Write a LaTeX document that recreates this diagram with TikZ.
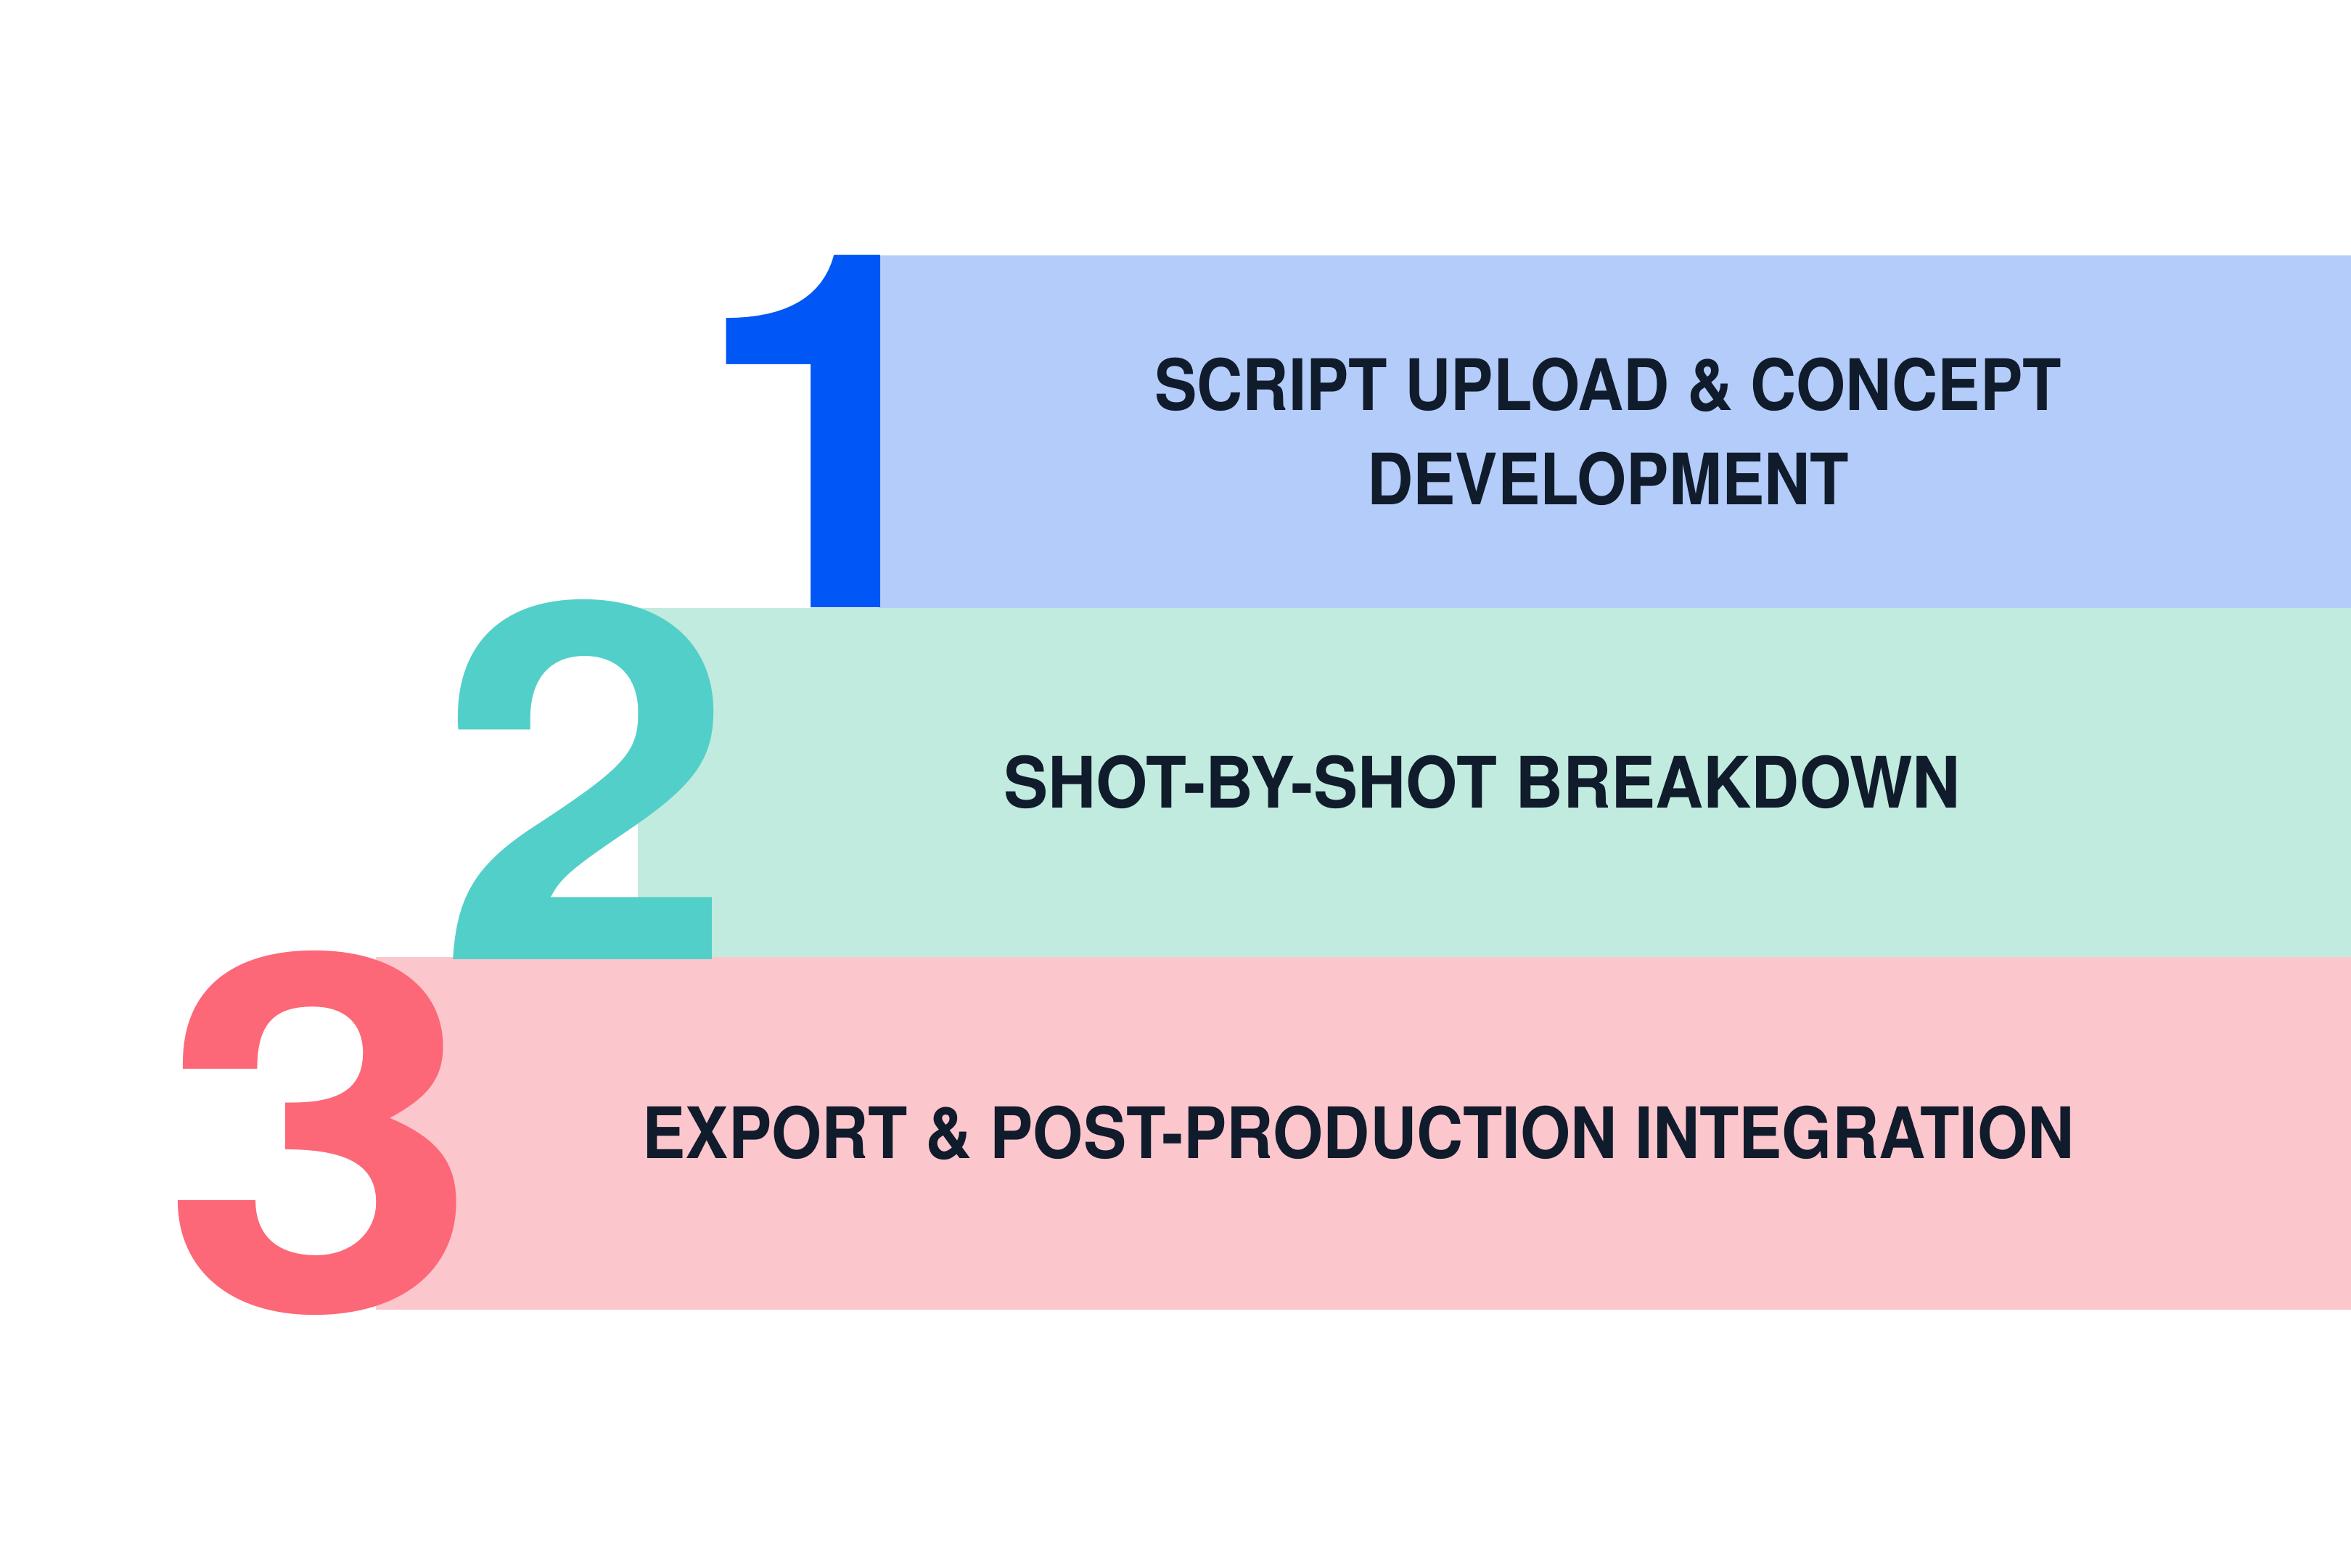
\documentclass[tikz,border=0pt]{standalone}
\usepackage{fontspec}
\setmainfont{TeX Gyre Heros}
\newfontfamily\labelfont{TeX Gyre Heros}[FakeStretch=0.91]
\newfontfamily\digitfont{TeX Gyre Heros}
\definecolor{barone}{HTML}{B3CCF9}
\definecolor{bartwo}{HTML}{C0EBDE}
\definecolor{barthree}{HTML}{FCC6CD}
\definecolor{numone}{HTML}{0057F5}
\definecolor{numtwo}{HTML}{52CFC8}
\definecolor{numthree}{HTML}{FC6877}
\definecolor{ink}{HTML}{101B2C}
\begin{document}
\begin{tikzpicture}[
  bar/.style={rectangle, inner sep=0, anchor=north west},
  lbl/.style={inner sep=0, align=center, text=ink,
    font=\labelfont\bfseries\fontsize{27.8}{37}\selectfont},
  digit/.style={inner sep=0, anchor=base, font=\digitfont\bfseries\fontsize{195}{195}\selectfont}]
\useasboundingbox[fill=white] (0,0) rectangle (32.4,-21.6);

\node[bar, fill=barone, minimum width=20.29cm, minimum height=4.86cm] (one) at (12.11,-3.51) {};
\node[bar, fill=bartwo, minimum width=23.62cm, minimum height=4.81cm] (two) at (8.78,-8.37) {};
\node[bar, fill=barthree, minimum width=27.23cm, minimum height=4.86cm] (three) at (5.17,-13.18) {};

\node[lbl, xscale=0.985] (t1) at ([xshift=-0.1cm]one.center) {SCRIPT UPLOAD \& CONCEPT\\DEVELOPMENT};
\node[lbl, xscale=1.03] (t2) at ([xshift=-0.17cm]two.center) {SHOT-BY-SHOT BREAKDOWN};
\node[lbl] (t3) at ([xshift=-0.07cm]three.center) {EXPORT \& POST-PRODUCTION INTEGRATION};

\node[digit, text=numone] (n1) at (11.45,-8.37) {1};
\node[digit, text=numtwo, xscale=1.08] (n2) at (8.08,-13.22) {2};
\node[digit, text=numthree, xscale=1.15] (n3) at (4.42,-18.06) {3};

\end{tikzpicture}
\end{document}
